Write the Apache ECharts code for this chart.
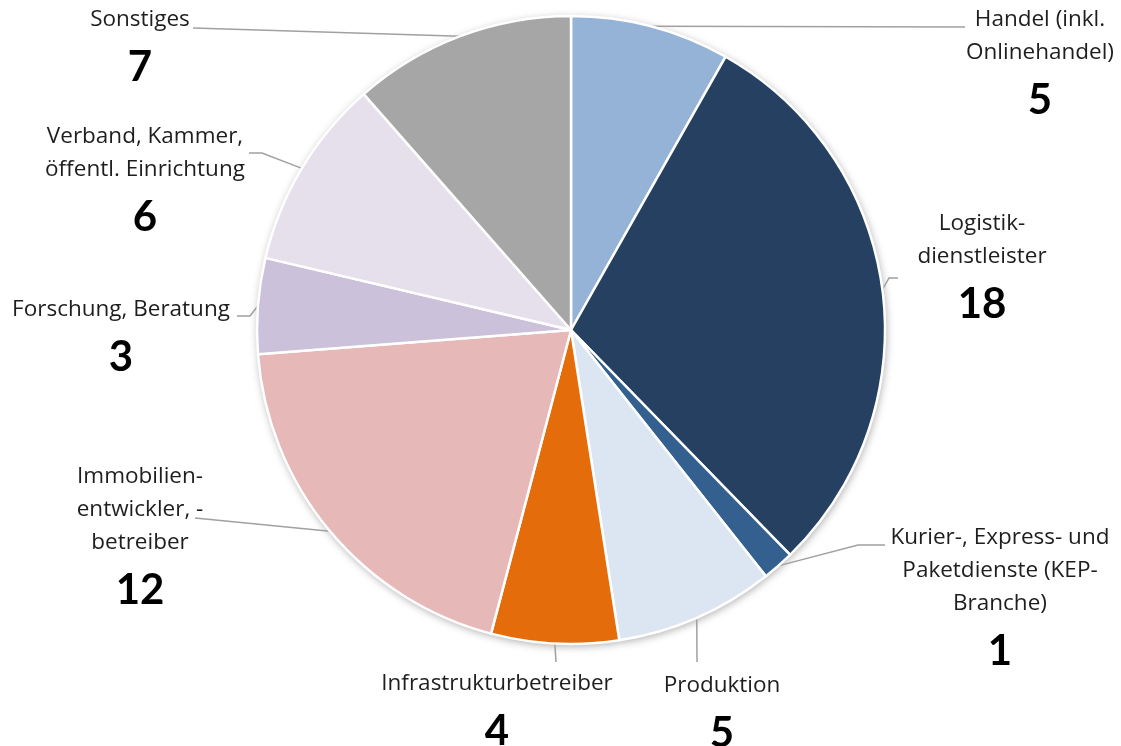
<!DOCTYPE html>
<html><head><meta charset="utf-8">
<script src="https://cdn.jsdelivr.net/npm/echarts@6/dist/echarts.min.js"></script>
<style>html,body{margin:0;padding:0;background:#fff}#c{width:1121px;height:746px}</style>
</head><body><div id="c"></div>
<script>
const categories = ['Handel (inkl.\nOnlinehandel)','Logistik-\ndienstleister','Kurier-, Express- und\nPaketdienste (KEP-\nBranche)','Produktion','Infrastrukturbetreiber','Immobilien-\nentwickler, -\nbetreiber','Forschung, Beratung','Verband, Kammer,\nöffentl. Einrichtung','Sonstiges'];
const values = [5,18,1,5,4,12,3,6,7];
const colors = ['#95B3D7','#254061','#34608F','#DCE6F2','#E46C0A','#E6B9B8','#CCC1DA','#E5E0EC','#A6A6A6'];

// label layout: center x, first text line center y, extra guide points (layout only)
const labelPos = [
  {x:1040, y:20, pts:[[965,27]]},
  {x:982, y:224, pts:[[889,278],[898,278]]},
  {x:1000, y:538, pts:[[858,545],[885,545]]},
  {x:722, y:686, pts:[[697,662]]},
  {x:497, y:684, pts:[[556,662]]},
  {x:140, y:477, pts:[[195,518]]},
  {x:121, y:310, pts:[[250,316],[237,316]]},
  {x:145, y:137, pts:[[262,153],[249,153]]},
  {x:140, y:20, pts:[[193,28]]}
];

const chart = echarts.init(document.getElementById('c'));
const center = ['571px','330px'];
const radius = 314;
chart.setOption({
  animation:false,
  series:[
    {
      type:'pie', silent:true, z:1, center:center, radius:radius, startAngle:90,
      label:{show:false}, labelLine:{show:false},
      itemStyle:{color:'#fff', shadowBlur:8, shadowColor:'rgba(0,0,0,0.35)', shadowOffsetX:1, shadowOffsetY:2},
      data: values.map(v=>({value:v}))
    },
    {
      type:'pie', z:2, center:center, radius:radius, startAngle:90, clockwise:true,
      itemStyle:{borderColor:'#fff', borderWidth:2.5},
      label:{
        show:true, position:'outside', overflow:'none', edgeDistance:0,
        formatter: p => '{n|' + p.name.split('\n').join('}\n{n|') + '}\n{v|' + p.value + '}',
        rich:{
          n:{fontFamily:'Open Sans', fontSize:22.5, lineHeight:33, color:'#1e1e1e', align:'center'},
          v:{fontFamily:'Lato', fontSize:42, fontWeight:'bold', lineHeight:62, color:'#000', align:'center'}
        }
      },
      labelLine:{show:true, lineStyle:{color:'#A0A0A0', width:1.5}},
      labelLayout: function(p){
        const L = labelPos[p.dataIndex];
        const start = p.labelLinePoints ? p.labelLinePoints[0] : L.pts[0];
        return {
          x: L.x, y: L.y - 16.5, align:'center', verticalAlign:'top',
          labelLinePoints: [start].concat(L.pts)
        };
      },
      data: categories.map((c,i)=>({name:c, value:values[i], itemStyle:{color:colors[i]}}))
    }
  ]
});
</script></body></html>
